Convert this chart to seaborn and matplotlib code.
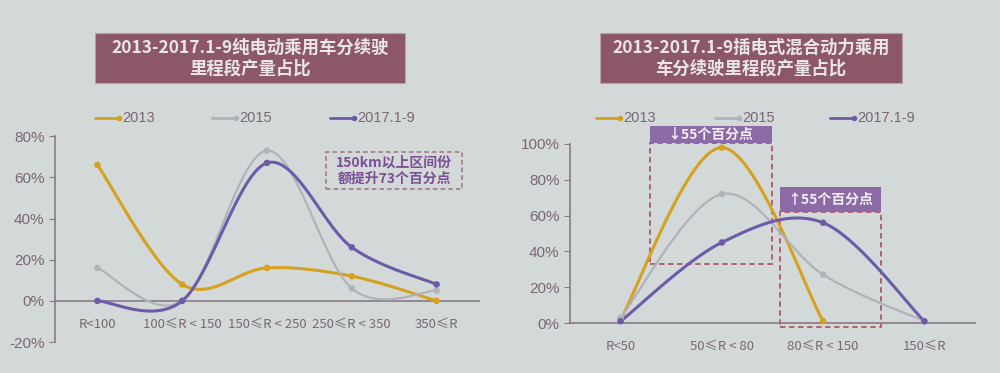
import numpy as np
import pandas as pd
import seaborn as sns
import matplotlib.pyplot as plt
from matplotlib.lines import Line2D
from matplotlib.patches import Rectangle
from matplotlib.ticker import PercentFormatter

sns.set_style("white")
plt.rcParams['font.family'] = ['Noto Sans CJK SC', 'DejaVu Sans']
plt.rcParams['axes.unicode_minus'] = False

# ---- data (share, %) ----
series = ["2013", "2015", "2017.1-9"]

bev_cats = ["R<100", "100≤R < 150", "150≤R < 250", "250≤R < 350", "350≤R"]
bev_2013 = [66, 8, 16, 12, 0]
bev_2015 = [16, 0, 73, 6, 5]
bev_2017 = [0, 0, 67, 26, 8]

phev_cats = ["R<50", "50≤R < 80", "80≤R < 150", "150≤R"]
phev_2013 = [2, 98, 1, np.nan]
phev_2015 = [3, 72, 27, 1]
phev_2017 = [1, 45, 56, 1]

colors = {"2013": "#d4a21e", "2015": "#b2b2ba", "2017.1-9": "#6c5ca8"}
txt = "#7a6676"
bg = "#d3d9d8"
tick_font = ['Liberation Sans', 'DejaVu Sans']


def catmull(x, y, n=30):
    # smooth curve like excel "smoothed line"
    x = np.asarray(x, float)
    y = np.asarray(y, float)
    px = np.r_[x[0], x, x[-1]]
    py = np.r_[y[0], y, y[-1]]
    t = np.linspace(0, 1, n)
    xs, ys = [], []
    for i in range(1, len(px) - 2):
        for p, out in ((px, xs), (py, ys)):
            p0, p1, p2, p3 = p[i - 1], p[i], p[i + 1], p[i + 2]
            out.append(0.5 * (2 * p1 + (-p0 + p2) * t
                              + (2 * p0 - 5 * p1 + 4 * p2 - p3) * t ** 2
                              + (-p0 + 3 * p1 - 3 * p2 + p3) * t ** 3))
    return np.concatenate(xs), np.concatenate(ys)


def draw(ax, cats, vals):
    df = pd.DataFrame({"cat": np.tile(np.arange(len(cats)), len(series)),
                       "year": np.repeat(series, len(cats)),
                       "v": np.concatenate(vals) / 100.0}).dropna()
    for yr in series:
        d = df[df.year == yr]
        sx, sy = catmull(d.cat, d.v)
        ax.plot(sx, sy, color=colors[yr], lw=2.2 if yr != "2015" else 1.6,
                clip_on=False, zorder=3)
    sns.scatterplot(data=df, x="cat", y="v", hue="year", palette=colors,
                    s=22, edgecolor="none", legend=False, ax=ax, zorder=4,
                    clip_on=False)
    ax.set_xlim(-0.5, len(cats) - 0.5)
    ax.set_xticks(range(len(cats)))
    ax.set_xticklabels(cats, family="DejaVu Sans")
    ax.set_xticks(np.arange(len(cats) + 1) - 0.5, minor=True)
    ax.tick_params(axis="x", which="major", length=0, pad=12, labelsize=9.5, labelcolor=txt)
    ax.tick_params(axis="x", which="minor", length=4, color="#8a7a88", direction="out")
    ax.tick_params(axis="y", length=4, color="#8a7a88", labelsize=11, labelcolor=txt, left=True)
    ax.yaxis.set_major_formatter(PercentFormatter(1.0, decimals=0))
    for lb in ax.get_yticklabels():
        lb.set_family(tick_font)
    ax.set_xlabel("")
    ax.set_ylabel("")
    ax.set_facecolor("none")
    for s in ["top", "right"]:
        ax.spines[s].set_visible(False)
    for s in ["left", "bottom"]:
        ax.spines[s].set_color("#8a7a88")
        ax.spines[s].set_linewidth(1.2)
    ax.spines["bottom"].set_position(("data", 0))


fig = plt.figure(figsize=(10, 3.73), dpi=100, facecolor=bg)

ax1 = fig.add_axes([0.055, 0.083, 0.424, 0.552])
ax1.set_ylim(-0.2, 0.8)
ax1.set_yticks(np.arange(-0.2, 0.81, 0.2))
draw(ax1, bev_cats, [bev_2013, bev_2015, bev_2017])
ax1.set_ylim(-0.2, 0.8)

ax2 = fig.add_axes([0.570, 0.134, 0.405, 0.48])
ax2.set_ylim(0, 1.0)
ax2.set_yticks(np.arange(0, 1.01, 0.2))
draw(ax2, phev_cats, [phev_2013, phev_2015, phev_2017])
ax2.set_ylim(0, 1.0)

# titles
title_col = "#8c5868"
for x0, w, t in [(0.095, 0.31, "2013-2017.1-9纯电动乘用车分续驶\n里程段产量占比"),
                 (0.600, 0.302, "2013-2017.1-9插电式混合动力乘用\n车分续驶里程段产量占比")]:
    fig.patches.append(Rectangle((x0, 1 - 83 / 373), w, 50 / 373, transform=fig.transFigure,
                                 facecolor=title_col, edgecolor="#b7a0aa", lw=0.8))
    fig.text(x0 + w / 2, 1 - 58 / 373, t, ha="center", va="center", color="#e9e5e8",
             fontsize=12.5, fontweight="bold", linespacing=1.25)

# legends
for ax, xs in [(ax1, (95, 212, 330)), (ax2, (596, 715, 830))]:
    for yr, x in zip(series, xs):
        yy = 1 - 118 / 373
        fig.lines.append(Line2D([x / 1000, (x + 24) / 1000], [yy, yy], transform=fig.transFigure,
                                color=colors[yr], lw=2, marker="o", markersize=3,
                                markevery=[1]))
        fig.text((x + 27) / 1000, yy, yr, va="center", ha="left", fontsize=10.5,
                 color=txt, family=tick_font)

# left annotation
ax1.add_patch(Rectangle((2.70, 0.545), 1.6, 0.178, fill=False, ls=(0, (3, 2)),
                        edgecolor="#a07080", lw=1.1, clip_on=False))
ax1.text(3.5, 0.634, "150km以上区间份\n额提升73个百分点", ha="center", va="center",
         color="#7a4f96", fontsize=10, fontweight="bold", linespacing=1.2)

# right annotations
red = "#b0586a"
purple_box = "#8c6aa6"
ax2.add_patch(Rectangle((0.29, 0.33), 1.205, 0.676, fill=False, ls=(0, (3, 2)),
                        edgecolor=red, lw=1.3, clip_on=False, zorder=2))
ax2.add_patch(Rectangle((0.29, 1.006), 1.205, 0.094, facecolor=purple_box,
                        edgecolor="none", clip_on=False, zorder=5))
ax2.text(0.89, 1.053, "↓55个百分点", ha="center", va="center", color="#f2eef4",
         fontsize=10, fontweight="bold", zorder=6)
ax2.add_patch(Rectangle((1.574, -0.02), 1.0, 0.64, fill=False, ls=(0, (3, 2)),
                        edgecolor=red, lw=1.3, clip_on=False, zorder=2))
ax2.add_patch(Rectangle((1.574, 0.62), 1.0, 0.14, facecolor=purple_box,
                        edgecolor="none", clip_on=False, zorder=5))
ax2.text(2.074, 0.69, "↑55个百分点", ha="center", va="center", color="#f2eef4",
         fontsize=10, fontweight="bold", zorder=6)

fig.savefig("out.png", dpi=100, facecolor=bg)
